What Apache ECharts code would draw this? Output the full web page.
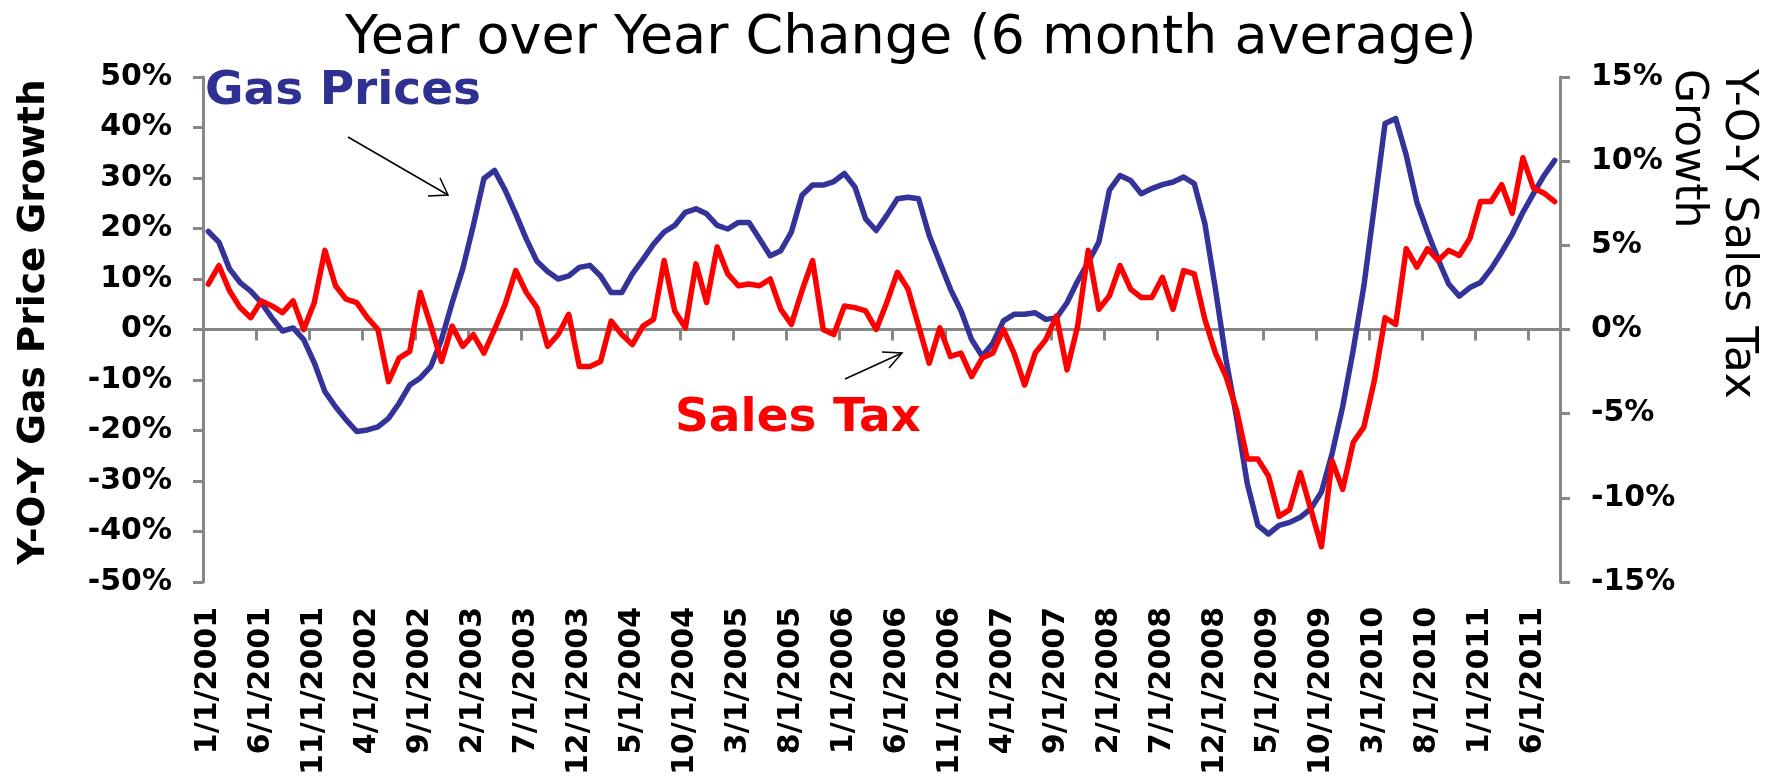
<!DOCTYPE html>
<html>
<head>
<meta charset="utf-8">
<script src="https://cdn.jsdelivr.net/npm/echarts@6/dist/echarts.min.js"></script>
<style>
  html, body { margin: 0; padding: 0; background: #fff; }
  #chart { width: 1765px; height: 778px; }
</style>
</head>
<body>
<div id="chart"></div>
<script>
// monthly categories, 1/1/2001 .. 8/1/2011
const startYear = 2001;
const monthCount = 128;
const months = [];
for (let i = 0; i < monthCount; i++) {
  months.push(((i % 12) + 1) + '/1/' + (startYear + Math.floor(i / 12)));
}

// Y-O-Y gas price growth, 6 month average (%), left axis
const gasPrices = [
  19.4, 17.3, 12.0, 9.3, 7.6, 5.3, 2.3, -0.3, 0.3, -2.0,
  -6.6, -12.3, -15.3, -17.9, -20.2, -19.9, -19.3, -17.6, -14.6, -11.0,
  -9.6, -7.3, -2.0, 5.3, 12.0, 20.6, 29.9, 31.5, 27.6, 22.9,
  17.9, 13.5, 11.5, 10.0, 10.6, 12.3, 12.7, 10.6, 7.3, 7.3,
  11.0, 13.9, 16.9, 19.3, 20.6, 23.2, 23.9, 22.9, 20.6, 19.9,
  21.2, 21.2, 17.9, 14.6, 15.6, 19.3, 26.6, 28.6, 28.6, 29.3,
  30.9, 28.2, 21.9, 19.6, 22.6, 25.9, 26.2, 25.9, 18.6, 13.3,
  8.0, 3.7, -2.0, -5.3, -2.7, 1.7, 3.0, 3.0, 3.3, 2.0,
  2.3, 5.3, 9.6, 13.3, 17.3, 27.6, 30.5, 29.5, 26.9, 27.9,
  28.7, 29.2, 30.2, 28.9, 21.0, 8.0, -6.0, -17.5, -30.5, -38.8,
  -40.5, -38.8, -38.2, -37.2, -35.5, -32.2, -24.6, -15.3, -4.0, 8.6,
  24.6, 40.8, 41.8, 34.5, 25.2, 19.3, 13.9, 9.0, 6.6, 8.3,
  9.3, 12.0, 15.3, 18.9, 23.2, 26.9, 30.5, 33.5
];

// Y-O-Y sales tax growth, 6 month average (%), right axis
const salesTax = [
  2.7, 3.8, 2.3, 1.3, 0.7, 1.7, 1.4, 1.0, 1.7, 0.0,
  1.6, 4.7, 2.6, 1.8, 1.6, 0.7, 0.0, -3.1, -1.7, -1.3,
  2.2, 0.2, -1.9, 0.2, -1.0, -0.3, -1.4, 0.0, 1.5, 3.5,
  2.2, 1.3, -1.0, -0.3, 0.9, -2.2, -2.2, -1.9, 0.5, -0.3,
  -0.9, 0.2, 0.6, 4.1, 1.1, 0.1, 3.9, 1.6, 4.9, 3.3,
  2.6, 2.7, 2.6, 3.0, 1.2, 0.3, 2.3, 4.1, 0.0, -0.3,
  1.4, 1.3, 1.1, 0.0, 1.6, 3.4, 2.4, 0.2, -2.0, 0.1,
  -1.6, -1.4, -2.8, -1.7, -1.4, 0.0, -1.4, -3.3, -1.4, -0.6,
  0.8, -2.4, 0.2, 4.7, 1.2, 2.0, 3.8, 2.4, 1.9, 1.9,
  3.1, 1.2, 3.5, 3.3, 0.6, -1.4, -2.8, -4.8, -7.7, -7.7,
  -8.7, -11.1, -10.7, -8.5, -10.7, -12.9, -7.8, -9.5, -6.7, -5.8,
  -3.0, 0.7, 0.3, 4.8, 3.7, 4.8, 4.1, 4.7, 4.4, 5.4,
  7.6, 7.6, 8.6, 6.9, 10.2, 8.4, 8.1, 7.6
];

const axisGray = '#878787';
const tickFont = { fontFamily: 'DejaVu Sans', fontWeight: 'bold', fontSize: 30, color: '#000' };

const chart = echarts.init(document.getElementById('chart'));

const option = {
  animation: false,
  title: {
    text: 'Year over Year Change (6 month average)',
    left: 340,
    top: 7,
    textStyle: { fontFamily: 'DejaVu Sans', fontWeight: 'normal', fontSize: 54, color: '#000' }
  },
  grid: { left: 203, right: 205, top: 77, bottom: 193 },
  xAxis: [
    {
      // date labels at the bottom
      type: 'category',
      data: months,
      position: 'bottom',
      axisLine: { show: false, onZero: false },
      axisTick: { show: false },
      axisLabel: { interval: 4, rotate: 90, margin: 25, ...tickFont }
    },
    {
      // zero line with its ticks
      type: 'category',
      data: months,
      position: 'top',
      axisLine: { show: true, onZero: true, lineStyle: { color: axisGray, width: 3 } },
      axisTick: { show: true, inside: true, interval: 4, length: 11, lineStyle: { color: axisGray, width: 3 } },
      axisLabel: { show: false }
    }
  ],
  yAxis: [
    {
      type: 'value',
      min: -50, max: 50, interval: 10,
      position: 'left',
      splitLine: { show: false },
      axisLine: { show: true, lineStyle: { color: axisGray, width: 3 } },
      axisTick: { show: true, length: 10, lineStyle: { color: axisGray, width: 3 } },
      axisLabel: { formatter: '{value}%', margin: 31, ...tickFont }
    },
    {
      type: 'value',
      min: -15, max: 15, interval: 5,
      position: 'right',
      splitLine: { show: false },
      axisLine: { show: true, lineStyle: { color: axisGray, width: 3 } },
      axisTick: { show: true, length: 10, lineStyle: { color: axisGray, width: 3 } },
      axisLabel: { formatter: '{value}%', margin: 31, ...tickFont }
    }
  ],
  series: [
    {
      name: 'Gas Prices',
      type: 'line',
      xAxisIndex: 0,
      yAxisIndex: 0,
      data: gasPrices,
      symbol: 'none',
      lineStyle: { color: '#333399', width: 5.5, cap: 'round', join: 'round' }
    },
    {
      name: 'Sales Tax',
      type: 'line',
      xAxisIndex: 0,
      yAxisIndex: 1,
      data: salesTax,
      symbol: 'none',
      lineStyle: { color: '#ff0000', width: 5.5, cap: 'round', join: 'round' }
    }
  ],
  graphic: [
    {
      type: 'text', x: 34, y: 322, rotation: Math.PI / 2,
      style: {
        text: 'Y-O-Y Gas Price Growth', align: 'center', verticalAlign: 'middle',
        font: 'bold 37.5px "DejaVu Sans"', fill: '#000'
      }
    },
    {
      type: 'text', x: 1762, y: 69, rotation: -Math.PI / 2,
      style: {
        text: 'Y-O-Y Sales Tax\nGrowth', align: 'left', verticalAlign: 'top', lineHeight: 50,
        font: '44px "DejaVu Sans"', fill: '#000'
      }
    },
    {
      type: 'text', x: 205, y: 92,
      style: {
        text: 'Gas Prices', align: 'left', verticalAlign: 'middle',
        font: 'bold 47px "DejaVu Sans"', fill: '#2e3192'
      }
    },
    {
      type: 'text', x: 675, y: 419,
      style: {
        text: 'Sales Tax', align: 'left', verticalAlign: 'middle',
        font: 'bold 47px "DejaVu Sans"', fill: '#ff0000'
      }
    },
    // arrow to the gas line
    {
      type: 'polyline',
      shape: { points: [[348, 137], [448, 195]] },
      style: { stroke: '#000', lineWidth: 1.5, fill: null }
    },
    {
      type: 'polyline',
      shape: { points: [[428, 196], [448, 195], [440, 178]] },
      style: { stroke: '#000', lineWidth: 1.5, fill: null }
    },
    // arrow to the sales tax line
    {
      type: 'polyline',
      shape: { points: [[845, 379], [902, 353]] },
      style: { stroke: '#000', lineWidth: 1.5, fill: null }
    },
    {
      type: 'polyline',
      shape: { points: [[882, 352], [902, 353], [889, 368]] },
      style: { stroke: '#000', lineWidth: 1.5, fill: null }
    }
  ]
};

chart.setOption(option);
window.addEventListener('resize', () => chart.resize());
</script>
</body>
</html>
